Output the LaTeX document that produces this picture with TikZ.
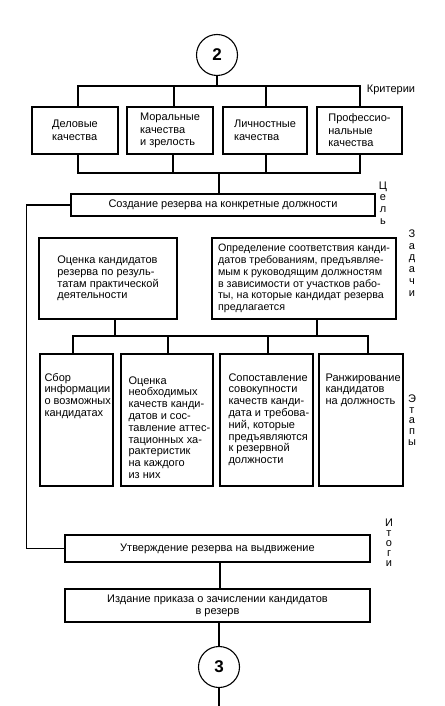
\documentclass[tikz,border=0pt]{standalone}
\usepackage{fontspec}
\setmainfont{Liberation Sans}
\begin{document}
\begin{tikzpicture}[x=1pt,y=-1pt,line width=1.1pt,
  box/.style={draw,rectangle,inner sep=0pt,align=left,font=\fontsize{11}{11.8}\selectfont},
  circ/.style={draw,circle,inner sep=0pt,minimum size=41pt,font=\fontsize{17}{17}\selectfont\bfseries},
  txt/.style={inner sep=0pt,anchor=base west,font=\fontsize{11}{11.8}\selectfont},
  side/.style={inner sep=0pt,anchor=north,align=center,font=\fontsize{11}{11.8}\selectfont},
  conn/.style={draw}]
\useasboundingbox (0,0) rectangle (444,706);
% circles
\node[circ] (c2) at (217,55) {2};
\node[circ] (c3) at (219,667) {3};
% criteria
\node[box,minimum width=86pt,minimum height=47pt,font=\fontsize{11}{12.5}\selectfont] (k1) at (75,130.5) {Деловые\\качества};
\node[box,minimum width=86pt,minimum height=47pt,font=\fontsize{11}{12.5}\selectfont] (k2) at (170,130.5) {Моральные\\качества\\и зрелость};
\node[box,minimum width=84pt,minimum height=47pt,font=\fontsize{11}{12.5}\selectfont] (k3) at (265,130.5) {Личностные\\качества};
\node[box,minimum width=85pt,minimum height=47pt,font=\fontsize{11}{12.5}\selectfont] (k4) at (359.5,130.5) {Профессио-\\нальные\\качества};
\node[inner sep=0pt,font=\fontsize{11}{12}\selectfont] (krit) at (391,90) {Критерии};
% goal
\node[box,align=center,minimum width=304pt,minimum height=22pt] (cel) at (223,205) {Создание резерва на конкретные должности};
\node[side] (celL) at (383,181) {Ц\\е\\л\\ь};
% tasks
\node[box,minimum width=138pt,minimum height=81pt] (z1) at (108,278.5) {Оценка кандидатов\\резерва по резуль-\\татам практической\\деятельности};
\node[box,minimum width=184pt,minimum height=81pt,font=\fontsize{10.7}{11.8}\selectfont] (z2) at (304,278.5) {Определение соответствия канди-\\датов требованиям, предъявляе-\\мым к руководящим должностям\\в зависимости от участков рабо-\\ты, на которые кандидат резерва\\предлагается};
\node[side] (zadL) at (412,229) {З\\а\\д\\а\\ч\\и};
% stages
\node[box,minimum width=73pt,minimum height=132pt] (e1) at (76.5,420) {};
\node[box,minimum width=92pt,minimum height=132pt] (e2) at (167,420) {};
\node[box,minimum width=93pt,minimum height=132pt] (e3) at (266.5,420) {};
\node[box,minimum width=84pt,minimum height=132pt] (e4) at (361,420) {};
\node[txt] (e1t) at (44,381) {\parbox[t]{70pt}{\raggedright Сбор\\информации\\о возможных\\кандидатах}};
\node[txt] (e2t) at (128,384) {\parbox[t]{85pt}{\raggedright Оценка\\необходимых\\качеств канди-\\датов и сос-\\тавление аттес-\\тационных ха-\\рактеристик\\на каждого\\из них}};
\node[txt] (e3t) at (228,381) {\parbox[t]{85pt}{\raggedright Сопоставление\\совокупности\\качеств канди-\\дата и требова-\\ний, которые\\предъявляются\\к резервной\\должности}};
\node[txt] (e4t) at (325,381) {\parbox[t]{80pt}{\raggedright Ранжирование\\кандидатов\\на должность}};
\node[side,font=\fontsize{11}{10.8}\selectfont] (etL) at (412,394) {Э\\т\\а\\п\\ы};
% results
\node[box,align=center,minimum width=305pt,minimum height=27pt] (ut) at (217.5,548.5) {Утверждение резерва на выдвижение};
\node[box,align=center,minimum width=305pt,minimum height=33pt] (iz) at (217.5,605.5) {Издание приказа о зачислении кандидатов\\в резерв};
\node[side,font=\fontsize{11}{10.2}\selectfont] (itL) at (389,518) {И\\т\\о\\г\\и};
% connectors
\coordinate (t0) at (217,86);
\coordinate (b0) at (219,173);
\coordinate (zb) at (216,336);
\coordinate (endp) at (219,706);
\draw (c2) -- (t0);
\draw ([xshift=3pt]k1.north) |- (t0) -| ([xshift=0.5pt]k4.north);
\draw ([xshift=4pt]k2.north) -- ([xshift=4pt]k2.north |- t0);
\draw ([xshift=1pt]k3.north) -- ([xshift=1pt]k3.north |- t0);
\draw ([xshift=3pt]k1.south) |- (b0) -| ([xshift=0.5pt]k4.south);
\draw ([xshift=3pt]k2.south) -- ([xshift=3pt]k2.south |- b0);
\draw ([xshift=1pt]k3.south) -- ([xshift=1pt]k3.south |- b0);
\draw (b0) -- (b0 |- cel.north);
\draw (cel.west) -- ++(-44,0) |- (ut.west);
\draw ([xshift=7pt]z1.south) -- ([xshift=7pt]z1.south |- zb);
\draw ([xshift=13pt]z2.south) -- ([xshift=13pt]z2.south |- zb);
\draw ([xshift=-3.5pt]e1.north) |- (zb) -| ([xshift=7pt]e4.north);
\draw ([xshift=1pt]e2.north) -- ([xshift=1pt]e2.north |- zb);
\draw ([xshift=1.5pt]e3.north) -- ([xshift=1.5pt]e3.north |- zb);
\draw ([xshift=2.5pt]ut.south) -- ([xshift=2.5pt]iz.north);
\draw (c3.north |- iz.south) -- (c3.north);
\draw (c3.south) -- (endp);
\end{tikzpicture}
\end{document}
